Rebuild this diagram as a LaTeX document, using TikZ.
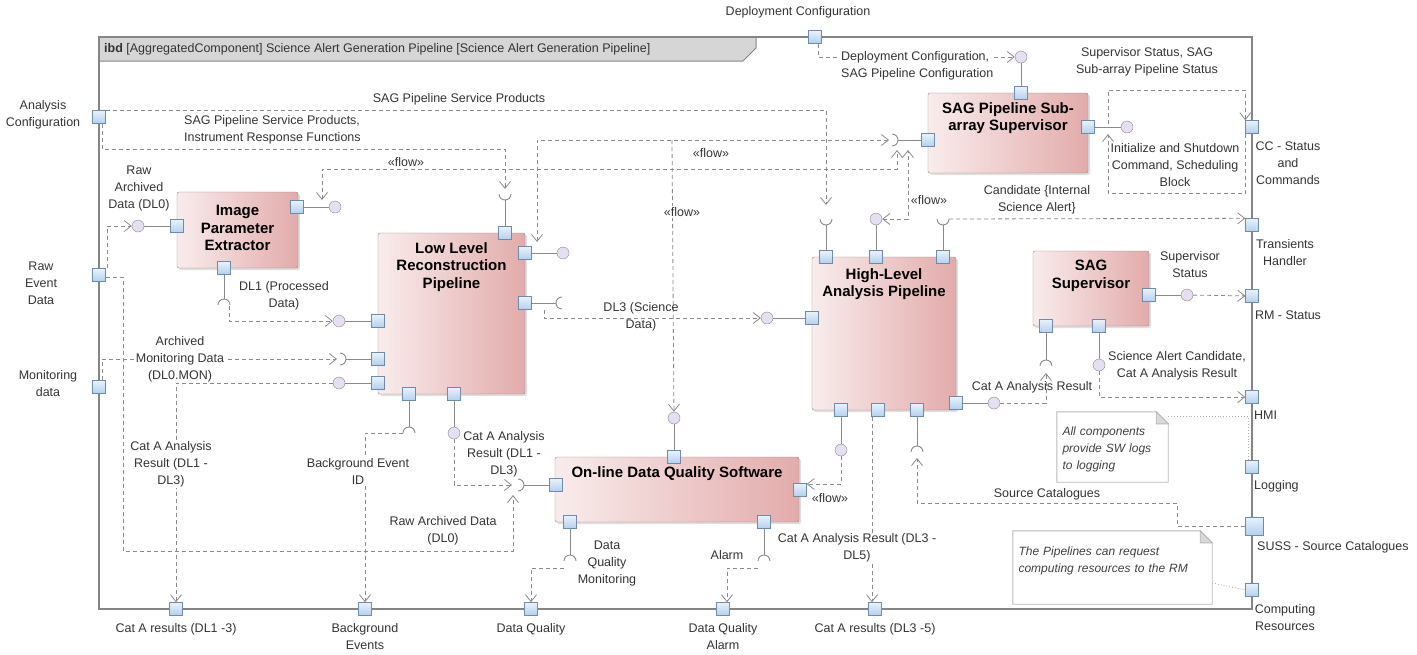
\documentclass[tikz,border=0pt]{standalone}
\usepackage{fontspec}
\setmainfont{Liberation Sans}
\usetikzlibrary{arrows.meta,shadows}

\definecolor{frameG}{HTML}{858585}
\definecolor{hdrG}{HTML}{D6D6D6}
\definecolor{lineG}{HTML}{8A8A8A}
\definecolor{compD}{HTML}{8E8585}
\definecolor{pinkL}{HTML}{F9ECEC}
\definecolor{pinkR}{HTML}{E3ABAB}
\definecolor{portL}{HTML}{E8F2FC}
\definecolor{portF}{HTML}{B2D0EE}
\definecolor{portD}{HTML}{6E8BAA}
\definecolor{lolliF}{HTML}{E6DEF2}

\begin{document}
\begin{tikzpicture}[x=1pt,y=-1pt,
  lbl/.style={font=\fontsize{12.5}{17}\selectfont,align=center,inner sep=1pt,text=black!80},
  ttl/.style={font=\bfseries\fontsize{15}{17.5}\selectfont,align=center,inner sep=0pt},
  comp/.style={draw=compD,rounded corners=2pt,left color=pinkL,right color=pinkR,
    drop shadow={shadow xshift=2pt,shadow yshift=-2pt,opacity=0.25}},
  port/.style={draw=portD,top color=portL,bottom color=portF,minimum size=13pt,inner sep=0pt},
  lolli/.style={circle,draw=lineG,fill=lolliF,minimum size=12pt,inner sep=0pt},
  wire/.style={draw=lineG,line width=0.9pt},
  flow/.style={draw=lineG,line width=0.8pt,dash pattern=on 4pt off 3pt,-{Straight Barb[length=7pt,width=11pt]}},
  flow2/.style={flow,{Straight Barb[length=7pt,width=11pt]}-{Straight Barb[length=7pt,width=11pt]}},
  note/.style={align=left,inner xsep=5pt,font=\itshape\fontsize{12}{17}\selectfont,text=black!75},
  noteline/.style={draw=gray!55,line width=0.9pt,fill=white},
  link/.style={draw=gray!60,dotted,line width=0.9pt},
  pics/sock/.style={code={\draw[wire] (-6pt,6pt) arc[start angle=180,end angle=360,radius=6pt];}}
]
\useasboundingbox (0,0) rectangle (1417,654);

\fill[hdrG] (99,37) -- (756,37) -- (756,48) -- (743,61) -- (99,61) -- cycle;
\draw[frameG,line width=1pt] (756,37) -- (756,48) -- (743,61) -- (99,61);
\draw[frameG,line width=1.6pt] (99,37) rectangle (1252,609);
\node[lbl,anchor=west] (hdr) at (103,49) {\textbf{ibd} [AggregatedComponent] Science Alert Generation Pipeline [Science Alert Generation Pipeline]};

\node[comp,minimum width=121pt,minimum height=76pt] (ipe) at (237.5,230) {};
\node[ttl] (ipe-t) at (237.5,228) {Image\\Parameter\\Extractor};
\node[comp,minimum width=147pt,minimum height=161pt] (llrp) at (451.5,313.5) {};
\node[ttl,anchor=north] (llrp-t) at (451.5,242) {Low Level\\Reconstruction\\Pipeline};
\node[comp,minimum width=144pt,minimum height=153pt] (hlap) at (884,333.5) {};
\node[ttl,anchor=north] (hlap-t) at (884,268) {High-Level\\Analysis Pipeline};
\node[comp,minimum width=160pt,minimum height=80pt] (sss) at (1008,133) {};
\node[ttl,anchor=north] (sss-t) at (1008,102) {SAG Pipeline Sub-\\array Supervisor};
\node[comp,minimum width=116pt,minimum height=75pt] (sgs) at (1091,288.5) {};
\node[ttl,anchor=north] (sgs-t) at (1091,260) {SAG\\Supervisor};
\node[comp,minimum width=244pt,minimum height=65pt] (odq) at (677,489.5) {};
\node[ttl,anchor=north] (odq-t) at (677,466) {On-line Data Quality Software};

\node[port] (pAC) at (99,117) {};
\node[port] (pRED) at (99,275) {};
\node[port] (pMon) at (99,387) {};
\node[port] (pDep) at (815,37) {};
\node[port] (pCC) at (1252,127) {};
\node[port] (pTH) at (1252,225) {};
\node[port] (pRM) at (1252,296) {};
\node[port] (pHMI) at (1252,397) {};
\node[port] (pLog) at (1252,467) {};
\node[port,minimum size=18pt] (pSUSS) at (1254,526) {};
\node[port] (pCR) at (1252,590) {};
\node[port] (pCatA1) at (176,609) {};
\node[port] (pBgE) at (365,609) {};
\node[port] (pDQ) at (531,609) {};
\node[port] (pDQA) at (723,609) {};
\node[port] (pCatA3) at (875,609) {};

\node[port] (ipeL) at (177,226) {};
\node[port] (ipeR) at (297,207) {};
\node[port] (ipeB) at (224,268) {};
\node[lolli] (cRaw) at (138,226) {};
\node[lolli] (cIpe) at (335,207) {};
\coordinate (sIpe) at (224,299);
\pic[rotate=180] at (sIpe) {sock};
\draw[wire] (ipeL) -- (cRaw);
\draw[wire] (ipeR) -- (cIpe);
\draw[wire] (ipeB) -- (sIpe);

\node[port] (llT) at (505,233) {};
\node[port] (llR1) at (525,253) {};
\node[port] (llR2) at (525,303) {};
\node[port] (llL1) at (378,321) {};
\node[port] (llL2) at (378,359) {};
\node[port] (llL3) at (378,383) {};
\node[port] (llB1) at (409,394) {};
\node[port] (llB2) at (454,394) {};
\node[lolli] (cLlR1) at (563,253) {};
\node[lolli] (cLlL1) at (339,321) {};
\node[lolli] (cLlL3) at (339,383) {};
\node[lolli] (cLlB2) at (454,433) {};
\coordinate (sLlT) at (505,200);
\coordinate (sLlR2) at (556,303);
\coordinate (sLlL2) at (346,359);
\coordinate (sLlB1) at (409,427);
\pic at (sLlT) {sock};
\pic[rotate=-90] at (sLlR2) {sock};
\pic[rotate=90] at (sLlL2) {sock};
\pic[rotate=180] at (sLlB1) {sock};
\draw[wire] (llT) -- (sLlT);
\draw[wire] (llR1) -- (cLlR1);
\draw[wire] (llR2) -- (sLlR2);
\draw[wire] (llL1) -- (cLlL1);
\draw[wire] (llL2) -- (sLlL2);
\draw[wire] (llL3) -- (cLlL3);
\draw[wire] (llB1) -- (sLlB1);
\draw[wire] (llB2) -- (cLlB2);

\node[port] (hlT1) at (826,257) {};
\node[port] (hlT2) at (876,257) {};
\node[port] (hlT3) at (943,257) {};
\node[port] (hlL) at (812,318) {};
\node[port] (hlR) at (956,403) {};
\node[port] (hlB1) at (841,410) {};
\node[port] (hlB2) at (878,410) {};
\node[port] (hlB3) at (917,410) {};
\node[lolli] (cHlT2) at (876,219) {};
\node[lolli] (cHlL) at (767,318) {};
\node[lolli] (cHlR) at (994,403) {};
\node[lolli] (cHlB1) at (841,450) {};
\coordinate (sHlT1) at (826,225);
\coordinate (sHlT3) at (943,225);
\coordinate (sHlB3) at (917,446);
\pic at (sHlT1) {sock};
\pic at (sHlT3) {sock};
\pic[rotate=180] at (sHlB3) {sock};
\draw[wire] (hlT1) -- (sHlT1);
\draw[wire] (hlT2) -- (cHlT2);
\draw[wire] (hlT3) -- (sHlT3);
\draw[wire] (hlL) -- (cHlL);
\draw[wire] (hlR) -- (cHlR);
\draw[wire] (hlB1) -- (cHlB1);
\draw[wire] (hlB3) -- (sHlB3);

\node[port] (ssL) at (928,140) {};
\node[port] (ssT) at (1021,93) {};
\node[port] (ssR) at (1088,127) {};
\node[lolli] (cSsT) at (1021,57) {};
\node[lolli] (cSsR) at (1127,127) {};
\coordinate (sSsL) at (898,140);
\pic[rotate=90] at (sSsL) {sock};
\draw[wire] (ssL) -- (sSsL);
\draw[wire] (ssT) -- (cSsT);
\draw[wire] (ssR) -- (cSsR);

\node[port] (sgR) at (1149,295) {};
\node[port] (sgB1) at (1046,326) {};
\node[port] (sgB2) at (1099,326) {};
\node[lolli] (cSgR) at (1187,295) {};
\node[lolli] (cSgB2) at (1099,365) {};
\coordinate (sSgB1) at (1046,360);
\pic[rotate=180] at (sSgB1) {sock};
\draw[wire] (sgR) -- (cSgR);
\draw[wire] (sgB1) -- (sSgB1);
\draw[wire] (sgB2) -- (cSgB2);

\node[port] (dqT) at (674,457) {};
\node[port] (dqL) at (556,485) {};
\node[port] (dqR) at (800,490) {};
\node[port] (dqB1) at (570,522) {};
\node[port] (dqB2) at (764,522) {};
\node[lolli] (cDqT) at (674,418) {};
\coordinate (sDqL) at (524,485);
\coordinate (sDqB1) at (570,555);
\coordinate (sDqB2) at (764,555);
\pic[rotate=90] at (sDqL) {sock};
\pic[rotate=180] at (sDqB1) {sock};
\pic[rotate=180] at (sDqB2) {sock};
\draw[wire] (dqT) -- (cDqT);
\draw[wire] (dqL) -- (sDqL);
\draw[wire] (dqB1) -- (sDqB1);
\draw[wire] (dqB2) -- (sDqB2);

\draw[flow] ([xshift=2pt]pRED.north east) |- (cRaw);
\draw[flow] (pAC.north east) -| ([yshift=20pt]sHlT1);
\draw[flow] ([xshift=3pt]pAC.south) |- (505,149) -- ([yshift=11pt]sLlT);
\draw[flow2] ([xshift=-13pt,yshift=7pt]cIpe.center) |- (897,169) -- ([xshift=-1pt,yshift=-10pt]sSsL);
\draw[flow2] ([xshift=-26pt,yshift=11pt]cLlR1.center) |- ([xshift=-9pt]sSsL);
\draw[flow] (672,140) -- (cDqT);
\draw[flow2] (cHlT2) -| ([xshift=10pt,yshift=-10pt]sSsL);
\draw[flow] ([xshift=6pt,yshift=6pt]sHlT3) -- (pTH.north west);
\draw[flow] ([xshift=3pt]pDep.south) |- (cSsT);
\draw[flow] (1108,124) -- (1108,90) -| (pCC.north west);
\draw[flow] (pCC.south west) |- (1108,193) -- (1108,134);
\draw[flow] ([xshift=5pt,yshift=-7pt]sIpe) |- (cLlL1);
\draw[flow] ([xshift=3pt]pMon.north) |- ([xshift=-9pt]sLlL2);
\draw[flow] (cLlL3) -| (pCatA1);
\draw[flow] ([yshift=-2pt]pRED.east) -| (123,551) -| ([xshift=-11pt,yshift=-10pt]sDqL);
\draw[flow] ([xshift=-6pt,yshift=-6pt]sLlB1) -| (pBgE);
\draw[flow] (cLlB2) |- ([xshift=-12pt]sDqL);
\draw[flow] ([xshift=-12pt,yshift=-7pt]sLlR2) |- (cHlL);
\draw[flow] (cHlR) -| ([yshift=-13pt]sSgB1);
\draw[flow] (cSgB2) |- (pHMI);
\draw[flow] (cSgR) -- (pRM);
\draw[flow] (pSUSS.west) -| (1177,503) -| ([yshift=-12pt]sHlB3);
\draw[flow] (cHlB1) |- ([yshift=6pt]dqR.east);
\draw[flow] ([xshift=-6pt]hlB2.south) -- ([xshift=-3pt]pCatA3.north);
\draw[flow] ([xshift=-6pt,yshift=-13pt]sDqB1) -| (pDQ);
\draw[flow] ([xshift=-6pt,yshift=-13pt]sDqB2) -| ([xshift=4pt]pDQA.north);

\node[minimum width=111pt,minimum height=70pt] (n1) at (1112.5,447) {};
\draw[noteline] (n1.north west) -- ([xshift=-12pt]n1.north east) -- ([yshift=-12pt]n1.north east) -- (n1.south east) -- (n1.south west) -- cycle;
\draw[noteline,fill=gray!30] ([xshift=-12pt]n1.north east) -- ([xshift=-12pt,yshift=-12pt]n1.north east) -- ([yshift=-12pt]n1.north east) -- cycle;
\node[note,text width=100pt] (n1-t) at (1112.5,449) {All components\\provide SW logs\\to logging};
\node[minimum width=199pt,minimum height=73pt] (n2) at (1112.5,567.5) {};
\draw[noteline] (n2.north west) -- ([xshift=-12pt]n2.north east) -- ([yshift=-12pt]n2.north east) -- (n2.south east) -- (n2.south west) -- cycle;
\draw[noteline,fill=gray!30] ([xshift=-12pt]n2.north east) -- ([xshift=-12pt,yshift=-12pt]n2.north east) -- ([yshift=-12pt]n2.north east) -- cycle;
\node[note,text width=188pt] (n2-t) at (1112.5,561) {The Pipelines can request\\computing resources to the RM};
\draw[link] ([yshift=-5pt]n1.north east) -| ([xshift=-4pt]pLog.north);
\draw[link] ([yshift=-15.5pt]n2.east) -- (pCR.west);

\node[lbl] (lAC) at (43,115) {Analysis\\Configuration};
\node[lbl] (lRED) at (41,283) {Raw\\Event\\Data};
\node[lbl] (lMon) at (48,384) {Monitoring\\data};
\node[lbl] (lDep) at (798,12) {Deployment Configuration};
\node[lbl] (lCC) at (1288,163) {CC - Status\\and\\Commands};
\node[lbl] (lTH) at (1285,253) {Transients\\Handler};
\node[lbl] (lRM) at (1288,315) {RM - Status};
\node[lbl,anchor=west] (lHMI) at (1253,415) {HMI};
\node[lbl,anchor=west] (lLog) at (1253,486) {Logging};
\node[lbl,anchor=west] (lSUSS) at (1256,547) {SUSS - Source Catalogues};
\node[lbl] (lCR) at (1285,618) {Computing\\Resources};
\node[lbl] (lCatA1) at (176,629) {Cat A results (DL1 -3)};
\node[lbl] (lBgE) at (365,637) {Background\\Events};
\node[lbl] (lDQ) at (531,629) {Data Quality};
\node[lbl] (lDQA) at (723,637) {Data Quality\\Alarm};
\node[lbl] (lCatA3) at (875,629) {Cat A results (DL3 -5)};

\node[lbl] (fRaw) at (139,188) {Raw\\Archived\\Data (DL0)};
\node[lbl] (fSPS) at (459,99) {SAG Pipeline Service Products};
\node[lbl,anchor=west,align=left] (fIRF) at (183,130) {SAG Pipeline Service Products,\\Instrument Response Functions};
\node[lbl] (fl1) at (406,162) {«flow»};
\node[lbl] (fl2) at (711,153) {«flow»};
\node[lbl,fill=white] (fl3) at (682,212) {«flow»};
\node[lbl] (fl4) at (929,200) {«flow»};
\node[lbl] (fl5) at (830,498) {«flow»};
\node[lbl] (fDL1) at (284,296) {DL1 (Processed\\Data)};
\node[lbl,fill=white] (fMon) at (180,359) {Archived\\Monitoring Data\\(DL0.MON)};
\node[lbl,fill=white] (fCat1) at (171,464) {Cat A Analysis\\Result (DL1 -\\DL3)};
\node[lbl,fill=white] (fBg) at (358,471) {Background Event\\ID};
\node[lbl] (fCat2) at (504,454) {Cat A Analysis\\Result (DL1 -\\DL3)};
\node[lbl] (fRaw2) at (443,531) {Raw Archived Data\\(DL0)};
\node[lbl] (fDL3) at (641,317) {DL3 (Science\\Data)};
\node[lbl,anchor=west,align=left,fill=white] (fDep) at (840,66) {Deployment Configuration,\\SAG Pipeline Configuration};
\node[lbl] (fSup) at (1147,62) {Supervisor Status, SAG\\Sub-array Pipeline Status};
\node[lbl] (fInit) at (1175,165) {Initialize and Shutdown\\Command, Scheduling\\Block};
\node[lbl] (fCand) at (1037,200) {Candidate \{Internal\\Science Alert\}};
\node[lbl] (fSgS) at (1190,265) {Supervisor\\Status};
\node[lbl] (fCat3) at (1032,387) {Cat A Analysis Result};
\node[lbl] (fSAC) at (1177,366) {Science Alert Candidate,\\Cat A Analysis Result};
\node[lbl] (fSrc) at (1047,494) {Source Catalogues};
\node[lbl,fill=white] (fCat4) at (857,548) {Cat A Analysis Result (DL3 -\\DL5)};
\node[lbl] (fDQM) at (607,563) {Data\\Quality\\Monitoring};
\node[lbl] (fAl) at (727,555) {Alarm};
\end{tikzpicture}
\end{document}
